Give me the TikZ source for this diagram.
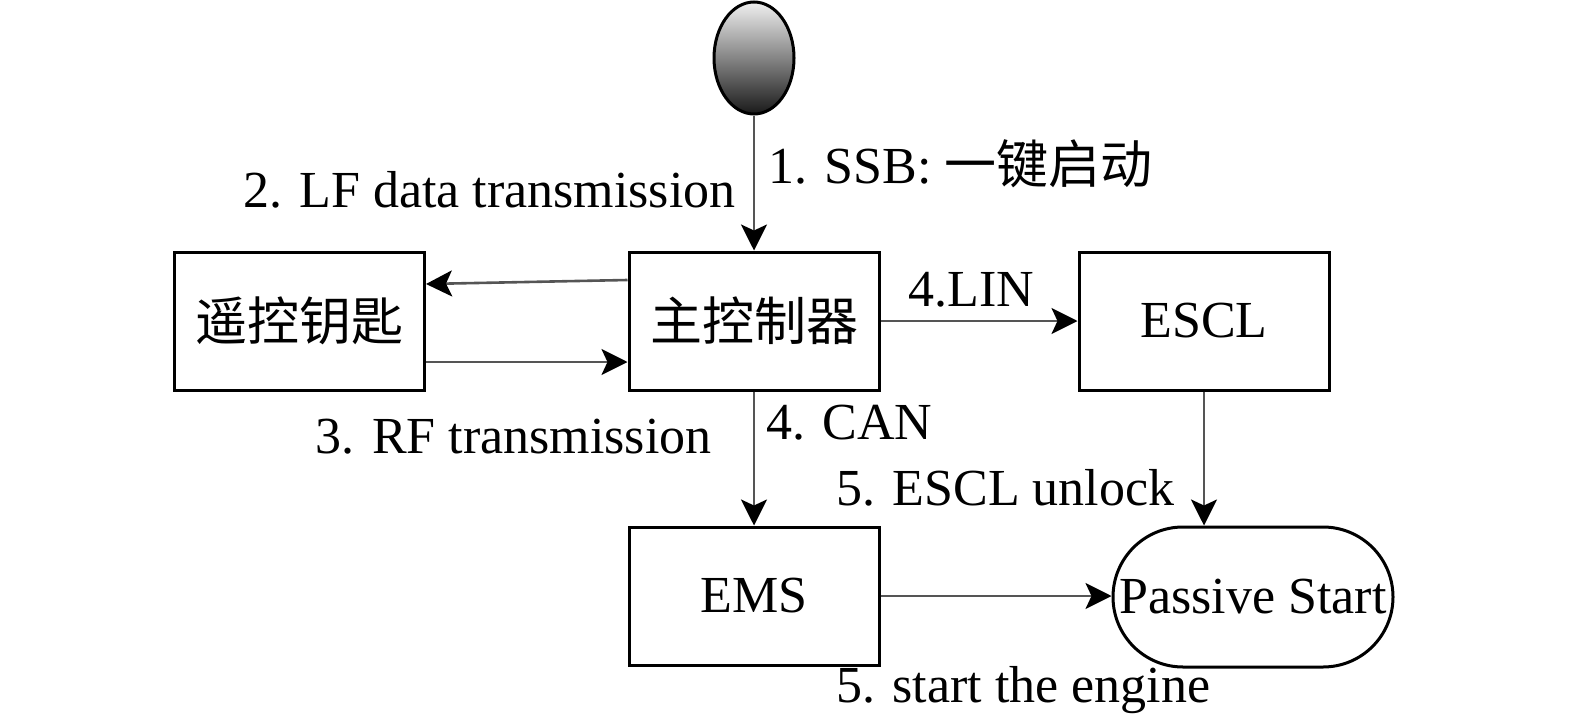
\documentclass[tikz,border=0pt]{standalone}
\usepackage{fontspec}
\setmainfont{Liberation Serif}
\newfontfamily\cjk{Noto Sans CJK SC}
\usetikzlibrary{arrows.meta,shapes.misc,shapes.geometric}
\definecolor{conngray}{HTML}{555555}
\tikzset{
  box/.style={draw=black,line width=1.5pt,minimum width=125pt,minimum height=69pt,inner sep=0pt,font=\fontsize{26}{30}\selectfont},
  conn/.style={draw=conngray,line width=1.3pt,-{Stealth[length=13pt,width=13pt,inset=3pt,color=black]}},
  lbl/.style={inner sep=0pt,font=\fontsize{26}{30}\selectfont},
}
\begin{document}
\begin{tikzpicture}[x=0.5pt,y=-0.5pt]
\useasboundingbox (0,0) rectangle (1575,728);
\node[ellipse,draw=black,line width=1.5pt,minimum width=40pt,minimum height=56pt,inner sep=0pt,top color=gray!12,bottom color=black!90] (ssb) at (754,58) {};
\node[box] (main) at (754,321) {\cjk 主控制器};
\node[box] (key) at (299.5,321) {\cjk 遥控钥匙};
\node[box] (escl) at (1204,321) {ESCL};
\node[box] (ems) at (754,596) {EMS};
\node[rounded rectangle,draw=black,line width=1.5pt,minimum width=140pt,minimum height=70pt,inner sep=0pt,font=\fontsize{26}{30}\selectfont] (ps) at (1253,597) {Passive Start};
\draw[conn] (ssb.south) -- (main.north);
\draw[conn] ([yshift=20.5pt]main.west) -- ([yshift=18.5pt]key.east);
\draw[conn] ([yshift=-20.5pt]key.east) -- ([yshift=-20.5pt]main.west);
\draw[conn] (main.east) -- (escl.west);
\draw[conn] (main.south) -- (ems.north);
\draw[conn] (escl.south) -- (escl.south |- ps.north);
\draw[conn] (ems.east) -- (ems.east -| ps.west);
\node[lbl,anchor=west] (l1) at (768,164) {1. SSB: {\cjk 一键启动}};
\node[lbl,anchor=east] (l2) at (736,190) {2. LF data transmission};
\node[lbl,anchor=east] (l3) at (712,437) {3. RF transmission};
\node[lbl,anchor=west] (l4) at (766,423) {4. CAN};
\node[lbl,anchor=west] (l5) at (908,290) {4.LIN};
\node[lbl,anchor=west] (l6) at (836,488) {5. ESCL unlock};
\node[lbl,anchor=west] (l7) at (836,690) {5. start the engine};
\end{tikzpicture}
\end{document}
